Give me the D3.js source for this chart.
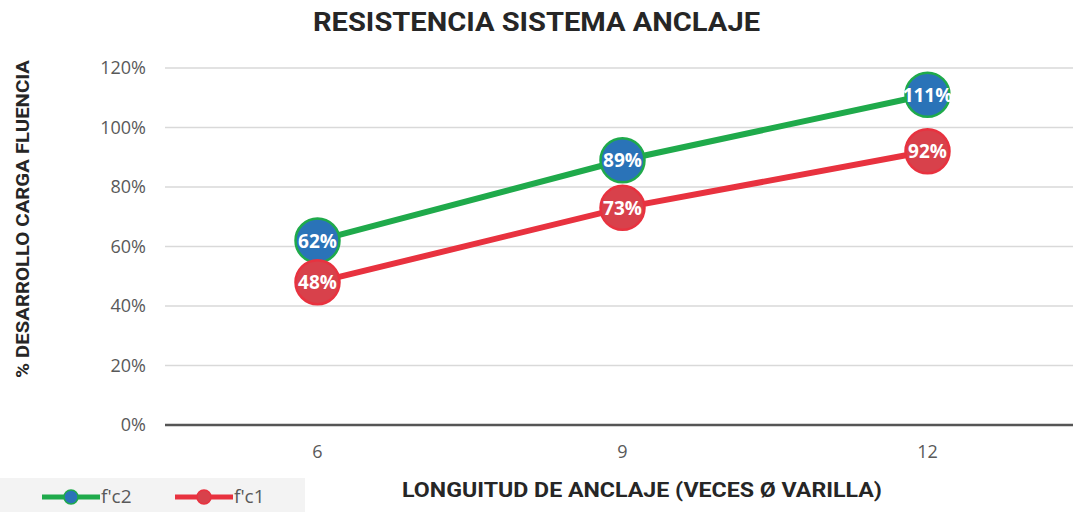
<!DOCTYPE html>
<html>
<head>
<meta charset="utf-8">
<script src="https://cdn.jsdelivr.net/npm/d3@7"></script>
<style>
  body { margin: 0; background: #fff; }
  svg { display: block; }
</style>
</head>
<body>
<svg id="vis" width="1073" height="512"></svg>
<script>
// chart data
var categories = [6, 9, 12];
var fc2Values = [0.62, 0.89, 1.11];
var fc1Values = [0.48, 0.73, 0.92];
var yTicks = [0, 0.2, 0.4, 0.6, 0.8, 1.0, 1.2];
var seriesNames = ["f'c2", "f'c1"];

var _vis = d3.select("#vis");
var PLOT_LEFT = 165, PLOT_RIGHT = 1080, PLOT_TOP = 68, PLOT_BOTTOM = 425;

var x = d3.scaleBand().domain(categories).range([PLOT_LEFT, PLOT_RIGHT]);
var y = d3.scaleLinear().domain([0, 1.2]).range([PLOT_BOTTOM, PLOT_TOP]);
var cx = function(d) { return x(d) + x.bandwidth() / 2; };

var series = [
    {name: seriesNames[0], values: fc2Values, line: "#1faa4b", fill: "#2a73b8", stroke: "#1faa4b"},
    {name: seriesNames[1], values: fc1Values, line: "#e8323f", fill: "#d8414b", stroke: "#e8323f"}
];

// title
_vis.append("text")
    .attr("x", 313).attr("y", 31)
    .attr("textLength", 447).attr("lengthAdjust", "spacingAndGlyphs")
    .attr("style", "font-family: Roboto; font-weight: bold; font-size: 25px; fill: #262626")
    .text("RESISTENCIA SISTEMA ANCLAJE");

// grid lines
_vis.append("g").selectAll("line")
    .data(yTicks.slice(1))
    .enter().append("line")
    .attr("x1", PLOT_LEFT).attr("x2", 1073)
    .attr("y1", function(d) { return y(d); })
    .attr("y2", function(d) { return y(d); })
    .attr("stroke", "#d9d9d9").attr("stroke-width", 1.5);

// y axis labels
var yAxis = d3.axisLeft(y).tickValues(yTicks).tickSize(0).tickPadding(0)
    .tickFormat(d3.format(".0%"));
var yg = _vis.append("g").attr("transform", "translate(146,0)").call(yAxis);
yg.select(".domain").remove();
yg.selectAll("text")
    .attr("style", "font-family: 'Open Sans'; font-size: 18px; fill: #595959");

// x axis
var xAxis = d3.axisBottom(x).tickSize(0).tickPadding(20);
var xg = _vis.append("g").attr("transform", "translate(0," + PLOT_BOTTOM + ")").call(xAxis);
xg.select(".domain").remove();
xg.selectAll("text")
    .attr("style", "font-family: 'Open Sans'; font-size: 18px; fill: #595959");
_vis.append("line")
    .attr("x1", PLOT_LEFT).attr("x2", 1073)
    .attr("y1", PLOT_BOTTOM).attr("y2", PLOT_BOTTOM)
    .attr("stroke", "#555").attr("stroke-width", 2.5);

// axis titles
_vis.append("text")
    .attr("transform", "translate(29,378) rotate(-90)")
    .attr("textLength", 318).attr("lengthAdjust", "spacingAndGlyphs")
    .attr("style", "font-family: Roboto; font-weight: bold; font-size: 19px; fill: #262626")
    .text("% DESARROLLO CARGA FLUENCIA");

_vis.append("text")
    .attr("x", 402).attr("y", 497)
    .attr("textLength", 480).attr("lengthAdjust", "spacingAndGlyphs")
    .attr("style", "font-family: Roboto; font-weight: bold; font-size: 20px; fill: #262626")
    .text("LONGUITUD DE ANCLAJE (VECES Ø VARILLA)");

// lines and markers
var line = d3.line()
    .x(function(d, i) { return cx(categories[i]); })
    .y(function(d) { return y(d); });

series.forEach(function(s) {
    _vis.append("path")
        .datum(s.values)
        .attr("d", line)
        .attr("fill", "none")
        .attr("stroke", s.line)
        .attr("stroke-width", 6);
});

series.forEach(function(s) {
    var g = _vis.append("g");
    g.selectAll("circle")
        .data(s.values)
        .enter().append("circle")
        .attr("cx", function(d, i) { return cx(categories[i]); })
        .attr("cy", function(d) { return y(d); })
        .attr("r", 22)
        .attr("fill", s.fill)
        .attr("stroke", s.stroke)
        .attr("stroke-width", 2.5);
    g.selectAll("text")
        .data(s.values)
        .enter().append("text")
        .attr("x", function(d, i) { return cx(categories[i]); })
        .attr("y", function(d) { return y(d) + 7; })
        .attr("text-anchor", "middle")
        .attr("style", "font-family: 'Open Sans'; font-weight: bold; font-size: 19px; fill: #fff")
        .text(function(d) { return Math.round(d * 100) + "%"; });
});

// legend
_vis.append("rect")
    .attr("x", 0).attr("y", 478).attr("width", 305).attr("height", 34)
    .attr("fill", "#f3f3f3");
var legend = _vis.append("g").selectAll("g")
    .data(series)
    .enter().append("g")
    .attr("transform", function(d, i) { return "translate(" + (42 + i * 133) + ",497)"; });
legend.append("line")
    .attr("x1", 0).attr("x2", 58).attr("y1", 0).attr("y2", 0)
    .attr("stroke", function(d) { return d.line; }).attr("stroke-width", 5);
legend.append("circle")
    .attr("cx", 29).attr("cy", 0).attr("r", 7)
    .attr("fill", function(d) { return d.fill; })
    .attr("stroke", function(d) { return d.stroke; }).attr("stroke-width", 1.5);
legend.append("text")
    .attr("x", 59).attr("y", 6)
    .attr("style", "font-family: 'Open Sans'; font-size: 19px; fill: #595959")
    .text(function(d) { return d.name; });
</script>
</body>
</html>
